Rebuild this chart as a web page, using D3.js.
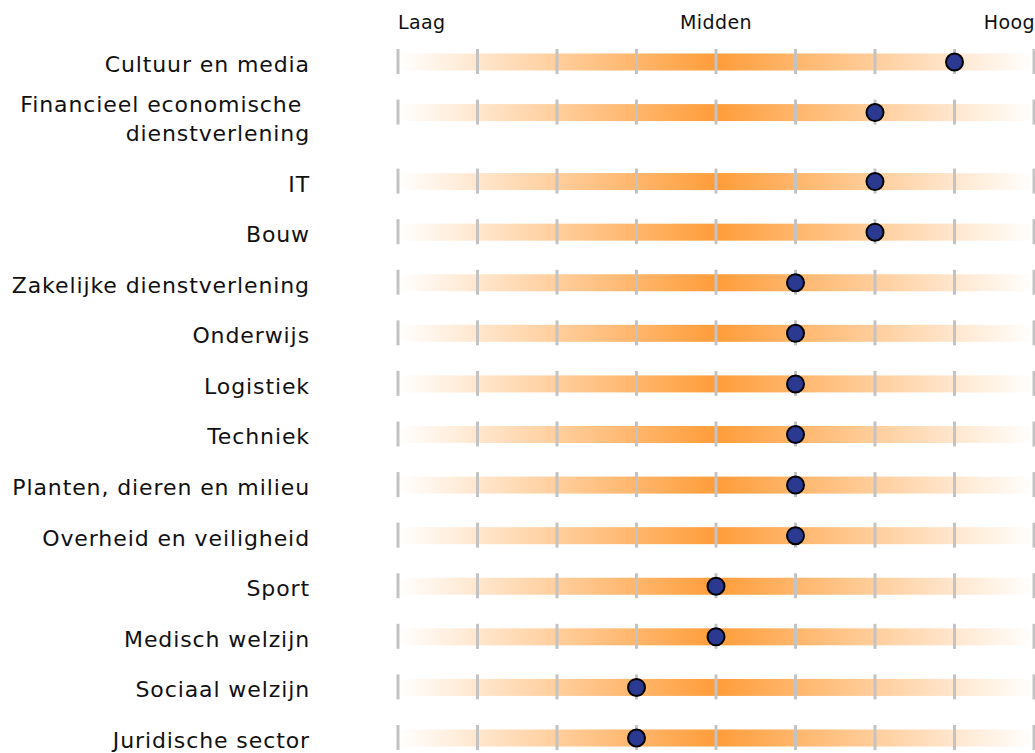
<!DOCTYPE html>
<html>
<head>
<meta charset="utf-8">
<script src="https://cdn.jsdelivr.net/npm/d3@7"></script>
<style>
  body { margin: 0; background: #fff; }
  svg { display: block; font-family: "DejaVu Sans", sans-serif; }
</style>
</head>
<body>
<svg id="chart"></svg>
<script>
// data
var categories = [
  ['Cultuur en media'],
  ['Financieel economische ', 'dienstverlening'],
  ['IT'],
  ['Bouw'],
  ['Zakelijke dienstverlening'],
  ['Onderwijs'],
  ['Logistiek'],
  ['Techniek'],
  ['Planten, dieren en milieu'],
  ['Overheid en veiligheid'],
  ['Sport'],
  ['Medisch welzijn'],
  ['Sociaal welzijn'],
  ['Juridische sector']
];
var values = [7, 6, 6, 6, 5, 5, 5, 5, 5, 5, 4, 4, 3, 3];
var axisLabels = ['Laag', 'Midden', 'Hoog'];
var steps = 8;

var vWidth = 1035;
var vHeight = 753;

var svg = d3.select('#chart')
    .attr('width', vWidth)
    .attr('height', vHeight);

var x = d3.scaleLinear().domain([0, steps]).range([398, 1034]);

// each extra label line pushes the following rows down a bit
var slots = [];
var acc = 0;
categories.forEach(function (c, i) {
  slots.push(acc);
  acc += 1 + 0.364 * (c.length - 1);
});
var y = d3.scaleLinear().domain([0, slots[slots.length - 1]]).range([62, 738]);

// gradient: pale at both ends, strong orange in the middle
var grad = svg.append('defs').append('linearGradient')
    .attr('id', 'barGrad')
    .attr('gradientUnits', 'userSpaceOnUse')
    .attr('x1', x(0)).attr('x2', x(steps))
    .attr('y1', 0).attr('y2', 0);
grad.append('stop').attr('offset', '0%').attr('stop-color', '#ffffff');
grad.append('stop').attr('offset', '50%').attr('stop-color', '#ff9d3a');
grad.append('stop').attr('offset', '100%').attr('stop-color', '#ffffff');

// axis labels at top
svg.selectAll('text.axis')
    .data(axisLabels)
    .enter()
    .append('text')
    .attr('class', 'axis')
    .attr('x', function (d, i) { return x(i * steps / 2) + [0, 0, 1][i]; })
    .attr('y', 29)
    .attr('text-anchor', function (d, i) { return ['start', 'middle', 'end'][i]; })
    .style('font-size', '19px')
    .style('letter-spacing', '0.4px')
    .style('fill', '#111')
    .text(function (d) { return d; });

var rows = svg.selectAll('g.row')
    .data(categories)
    .enter()
    .append('g')
    .attr('class', 'row')
    .attr('transform', function (d, i) { return 'translate(0,' + y(slots[i]) + ')'; });

rows.append('rect')
    .attr('x', x(0))
    .attr('y', -8.5)
    .attr('width', x(steps) - x(0) - 3)
    .attr('height', 17)
    .style('fill', 'url(#barGrad)');

rows.selectAll('line')
    .data(d3.range(steps + 1))
    .enter()
    .append('line')
    .attr('x1', function (d) { return x(d); })
    .attr('x2', function (d) { return x(d); })
    .attr('y1', -13)
    .attr('y2', 12)
    .style('stroke', '#c3c3c3')
    .style('stroke-width', 3);

rows.append('text')
    .attr('text-anchor', 'end')
    .style('font-size', '22px')
    .style('letter-spacing', '0.9px')
    .style('fill', '#111')
    .style('white-space', 'pre')
    .selectAll('tspan')
    .data(function (d) { return d.map(function (t, j) { return {t: t, j: j, n: d.length}; }); })
    .enter()
    .append('tspan')
    .attr('x', 310)
    .attr('y', function (d) { return 10 - 11 * (d.n - 1) + 29 * d.j; })
    .text(function (d) { return d.t; });

rows.append('circle')
    .attr('cx', function (d, i) { return x(values[i]); })
    .attr('cy', 0)
    .attr('r', 8.5)
    .style('fill', '#2b3990')
    .style('stroke', '#000')
    .style('stroke-width', 2);
</script>
</body>
</html>
